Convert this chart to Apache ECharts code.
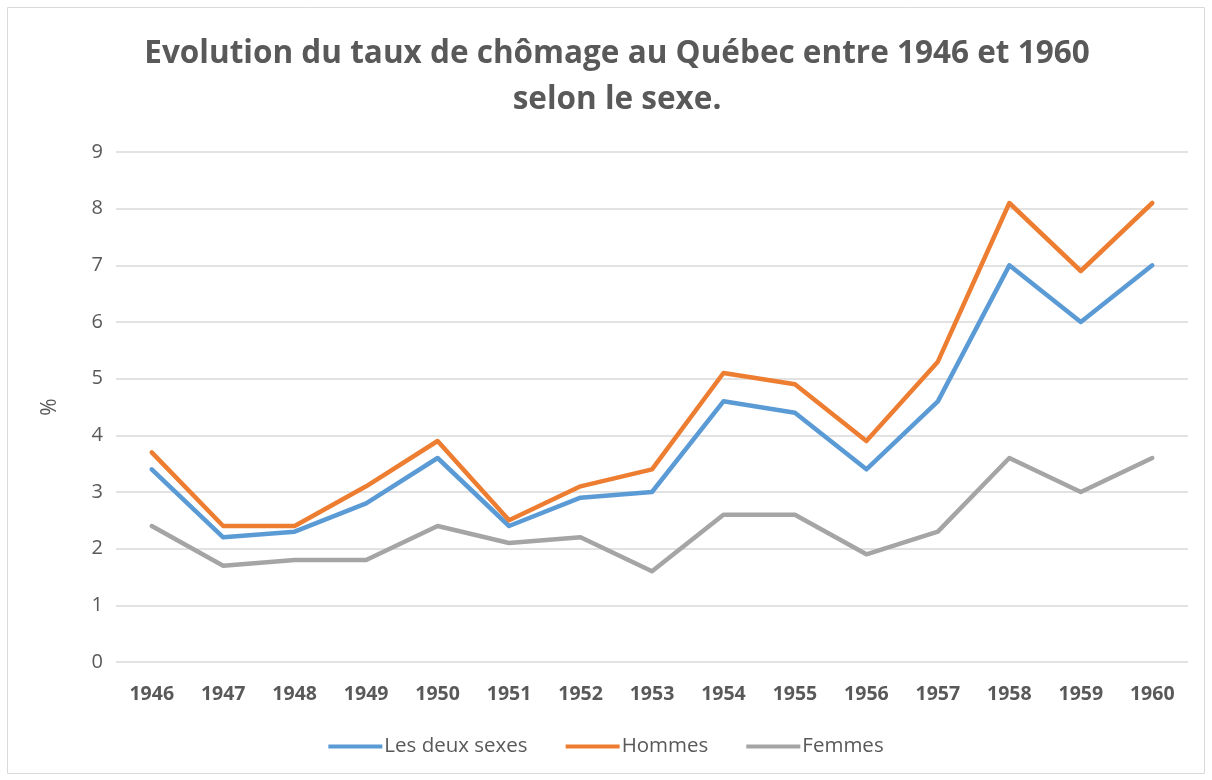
<!DOCTYPE html>
<html>
<head>
<meta charset="utf-8">
<script src="https://cdn.jsdelivr.net/npm/echarts@6/dist/echarts.min.js"></script>
<style>
html,body{margin:0;padding:0;background:#fff;}
#c{width:1212px;height:780px;}
</style>
</head>
<body>
<div id="c"></div>
<script>
var years = ['1946','1947','1948','1949','1950','1951','1952','1953','1954','1955','1956','1957','1958','1959','1960'];
var deuxSexes = [3.4, 2.2, 2.3, 2.8, 3.6, 2.4, 2.9, 3.0, 4.6, 4.4, 3.4, 4.6, 7.0, 6.0, 7.0];
var hommes = [3.7, 2.4, 2.4, 3.1, 3.9, 2.5, 3.1, 3.4, 5.1, 4.9, 3.9, 5.3, 8.1, 6.9, 8.1];
var femmes = [2.4, 1.7, 1.8, 1.8, 2.4, 2.1, 2.2, 1.6, 2.6, 2.6, 1.9, 2.3, 3.6, 3.0, 3.6];
var seriesNames = ['Les deux sexes', 'Hommes', 'Femmes'];
var colors = ['#5B9BD5', '#ED7D31', '#A5A5A5'];

var font = 'Open Sans';
var chart = echarts.init(document.getElementById('c'));
function line(name, data, color) {
  return {
    name: name, type: 'line', data: data, symbol: 'none',
    lineStyle: {width: 4.5, color: color, cap: 'round', join: 'round'},
    itemStyle: {color: color},
    emphasis: {disabled: true}
  };
}
chart.setOption({
  animation: false,
  color: colors,
  title: {
    text: 'Evolution du taux de chômage au Québec entre 1946 et 1960\nselon le sexe.',
    left: 612, top: 26, textAlign: 'center',
    textStyle: {fontFamily: font, fontWeight: 'bold', fontSize: 31.5, color: '#595959', lineHeight: 46}
  },
  graphic: [{
    type: 'rect', shape: {x: 7.5, y: 7.5, width: 1197, height: 766},
    style: {fill: 'none', stroke: '#d9d9d9', lineWidth: 1}, silent: true
  }],
  legend: {
    bottom: 18, left: 'center', itemWidth: 54, itemHeight: 4, itemGap: 38,
    icon: 'rect',
    textStyle: {fontFamily: font, fontSize: 20.5, color: '#595959', padding: [0,0,0,-3]},
    data: seriesNames
  },
  grid: {left: 116, right: 24, top: 152, bottom: 118, containLabel: false},
  xAxis: {
    type: 'category', data: years, boundaryGap: true,
    axisLine: {show: false}, axisTick: {show: false},
    axisLabel: {fontFamily: font, fontWeight: 'bold', fontSize: 19.5, color: '#595959', margin: 22}
  },
  yAxis: {
    type: 'value', min: 0, max: 9, interval: 1,
    name: '%', nameLocation: 'middle', nameGap: 55, nameRotate: 90,
    nameTextStyle: {fontFamily: font, fontSize: 21, color: '#595959'},
    axisLine: {show: false}, axisTick: {show: false},
    axisLabel: {fontFamily: font, fontSize: 20, color: '#595959', margin: 13},
    splitLine: {lineStyle: {color: '#d9d9d9', width: 1.5}}
  },
  series: [
    line(seriesNames[0], deuxSexes, colors[0]),
    line(seriesNames[1], hommes, colors[1]),
    line(seriesNames[2], femmes, colors[2])
  ]
});
</script>
</body>
</html>
